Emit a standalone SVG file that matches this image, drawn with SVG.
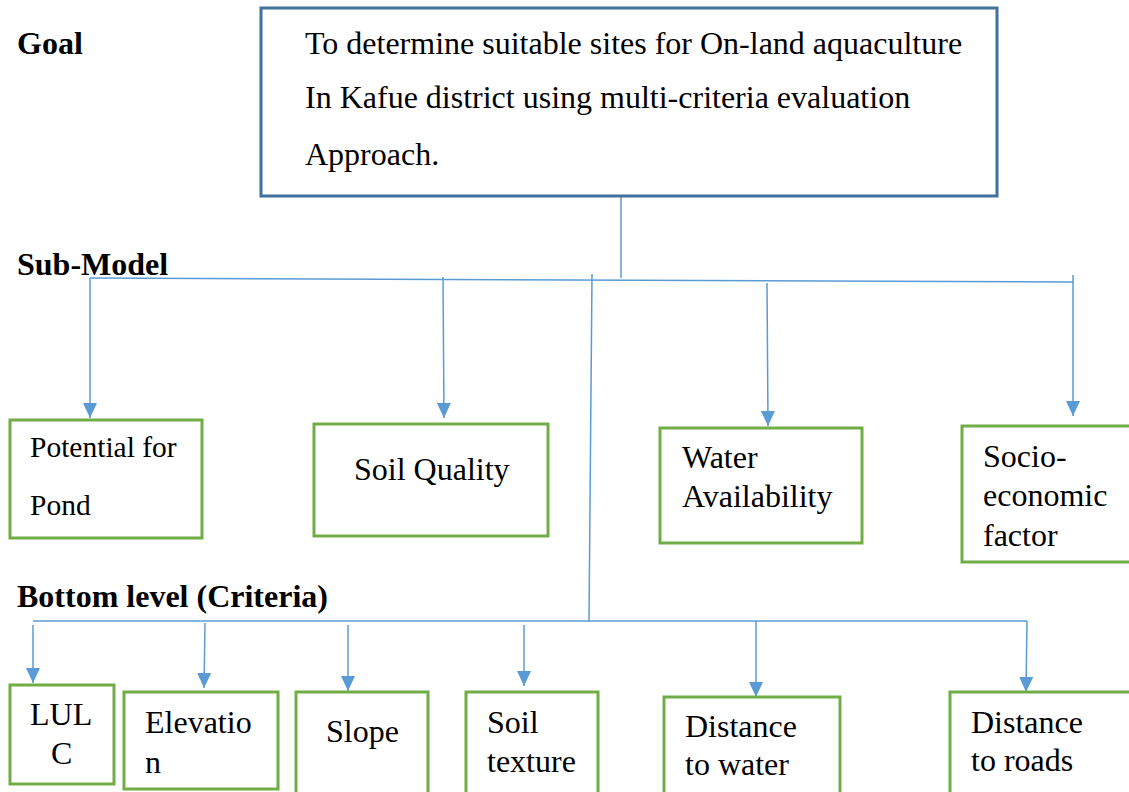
<svg xmlns="http://www.w3.org/2000/svg" width="1129" height="792" viewBox="0 0 1129 792">
<style>
.t{font-family:"Liberation Serif","Times New Roman",serif;font-size:32px;fill:#000}
.b{font-weight:bold}
.s{font-size:29.5px}
.c{stroke:#5b9bd5;stroke-width:1.5;fill:none}
.g{fill:#fff;stroke:#70ad47;stroke-width:3}
.top{fill:#fff;stroke:#41719c;stroke-width:3}
</style>
<defs>
<marker id="ah" viewBox="0 -7 15 14" refX="15" refY="0" markerWidth="15" markerHeight="14" markerUnits="userSpaceOnUse" orient="auto">
<path d="M0,-7 L15,0 L0,7 z" fill="#5b9bd5"/>
</marker>
</defs>
<rect width="1129" height="792" fill="#fff"/>
<g id="labels">
<text class="t b" x="17" y="54">Goal</text>
<text class="t b" x="17" y="275">Sub-Model</text>
<text class="t b" x="17" y="607">Bottom level (Criteria)</text>
</g>
<g id="connectors">
<line class="c" x1="621" y1="193" x2="621" y2="278"/>
<line class="c" x1="90" y1="278" x2="1073" y2="282"/>
<line class="c" x1="1073" y1="275" x2="1073" y2="282"/>
<line class="c" x1="592" y1="274" x2="589" y2="621"/>
<line class="c" x1="90" y1="278" x2="90" y2="418" marker-end="url(#ah)"/>
<line class="c" x1="443" y1="277" x2="444" y2="418" marker-end="url(#ah)"/>
<line class="c" x1="767" y1="283" x2="768" y2="426" marker-end="url(#ah)"/>
<line class="c" x1="1073" y1="282" x2="1073" y2="416" marker-end="url(#ah)"/>
<line class="c" x1="33" y1="621" x2="1027" y2="621"/>
<line class="c" x1="33" y1="625" x2="33" y2="683" marker-end="url(#ah)"/>
<line class="c" x1="205" y1="623" x2="204" y2="688" marker-end="url(#ah)"/>
<line class="c" x1="348" y1="625" x2="348" y2="691" marker-end="url(#ah)"/>
<line class="c" x1="524" y1="625" x2="524" y2="686" marker-end="url(#ah)"/>
<line class="c" x1="756" y1="621" x2="756" y2="697" marker-end="url(#ah)"/>
<line class="c" x1="1027" y1="621" x2="1026" y2="692" marker-end="url(#ah)"/>
</g>
<g id="goal">
<rect class="top" x="261" y="8" width="736" height="188"/>
<text class="t" x="305" y="54">To determine suitable sites for On-land aquaculture</text>
<text class="t" x="305" y="108">In Kafue district using multi-criteria evaluation</text>
<text class="t" x="305" y="165">Approach.</text>
</g>
<g id="potential">
<rect class="g" x="10" y="420" width="192" height="118"/>
<text class="t s" x="30" y="457">Potential for</text>
<text class="t s" x="30" y="515">Pond</text>
</g>
<g id="soilquality">
<rect class="g" x="314" y="424" width="234" height="112"/>
<text class="t" x="354" y="480">Soil Quality</text>
</g>
<g id="water">
<rect class="g" x="660" y="428" width="202" height="115"/>
<text class="t" x="682" y="468">Water</text>
<text class="t" x="682" y="507">Availability</text>
</g>
<g id="socio">
<rect class="g" x="962" y="426" width="180" height="136"/>
<text class="t" x="983" y="467">Socio-</text>
<text class="t" x="983" y="506">economic</text>
<text class="t" x="983" y="546">factor</text>
</g>
<g id="lulc">
<rect class="g" x="10" y="685" width="104" height="99"/>
<text class="t" x="30" y="725">LUL</text>
<text class="t" x="51" y="764">C</text>
</g>
<g id="elevation">
<rect class="g" x="124" y="692" width="154" height="97"/>
<text class="t" x="145" y="733">Elevatio</text>
<text class="t" x="145" y="773">n</text>
</g>
<g id="slope">
<rect class="g" x="296" y="692" width="132" height="110"/>
<text class="t" x="326" y="742">Slope</text>
</g>
<g id="soiltexture">
<rect class="g" x="466" y="692" width="132" height="110"/>
<text class="t" x="487" y="733">Soil</text>
<text class="t" x="487" y="772">texture</text>
</g>
<g id="distwater">
<rect class="g" x="664" y="697" width="176" height="110"/>
<text class="t" x="685" y="737">Distance</text>
<text class="t" x="685" y="775">to water</text>
</g>
<g id="distroads">
<rect class="g" x="950" y="692" width="190" height="110"/>
<text class="t" x="971" y="733">Distance</text>
<text class="t" x="971" y="771">to roads</text>
</g>
</svg>
